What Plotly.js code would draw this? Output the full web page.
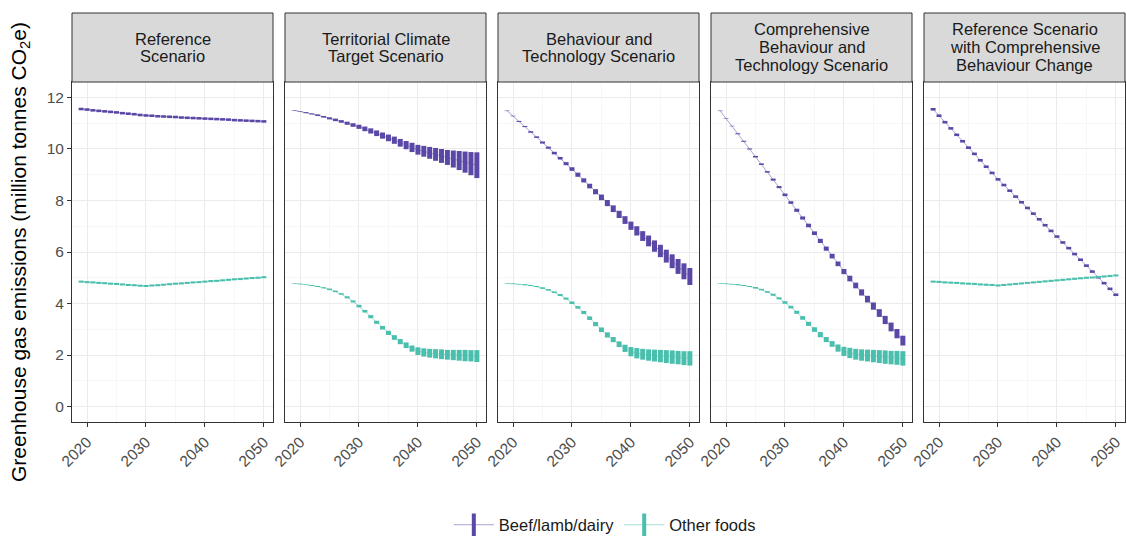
<!DOCTYPE html>
<html>
<head>
<meta charset="utf-8">
<script src="https://cdn.plot.ly/plotly-3.0.1.min.js"></script>
<style>
  html, body { margin: 0; padding: 0; background: #fff; }
  #chart { width: 1127px; height: 539px; }
</style>
</head>
<body>
<div id="chart"></div>
<script>
// years shown in every panel
const years = [2019, 2020, 2021, 2022, 2023, 2024, 2025, 2026, 2027, 2028, 2029, 2030,
               2031, 2032, 2033, 2034, 2035, 2036, 2037, 2038, 2039, 2040,
               2041, 2042, 2043, 2044, 2045, 2046, 2047, 2048, 2049, 2050];

const scenarioLabels = [
    ['Reference', 'Scenario'],
    ['Territorial Climate', 'Target Scenario'],
    ['Behaviour and', 'Technology Scenario'],
    ['Comprehensive', 'Behaviour and', 'Technology Scenario'],
    ['Reference Scenario', 'with Comprehensive', 'Behaviour Change']
];
const seriesNames = ['Beef/lamb/dairy', 'Other foods'];
const xTickVals = [2020, 2030, 2040, 2050];
const yTickVals = [0, 2, 4, 6, 8, 10, 12];

// Reference Scenario (central value, half of uncertainty range)
const refBeef = [11.55, 11.53, 11.50, 11.48, 11.46, 11.44, 11.42, 11.39, 11.37, 11.35, 11.32, 11.30,
                 11.29, 11.27, 11.26, 11.25, 11.24, 11.22, 11.21, 11.20, 11.19, 11.18,
                 11.17, 11.16, 11.15, 11.14, 11.12, 11.11, 11.10, 11.09, 11.08, 11.07];
const refBeefHalf = [0.05, 0.05, 0.05, 0.05, 0.05, 0.05, 0.05, 0.05, 0.05, 0.05, 0.05, 0.05,
                     0.05, 0.05, 0.05, 0.05, 0.05, 0.05, 0.05, 0.05, 0.05, 0.05,
                     0.05, 0.05, 0.05, 0.05, 0.05, 0.05, 0.05, 0.05, 0.05, 0.05];
const refOther = [4.85, 4.83, 4.82, 4.80, 4.79, 4.77, 4.76, 4.74, 4.72, 4.71, 4.69, 4.68,
                  4.70, 4.71, 4.73, 4.75, 4.77, 4.78, 4.80, 4.82, 4.83, 4.85,
                  4.87, 4.88, 4.90, 4.92, 4.94, 4.95, 4.97, 4.99, 5.00, 5.02];
const refOtherHalf = [0.04, 0.04, 0.04, 0.04, 0.04, 0.04, 0.04, 0.04, 0.04, 0.04, 0.04, 0.04,
                      0.04, 0.04, 0.04, 0.04, 0.04, 0.04, 0.04, 0.04, 0.04, 0.04,
                      0.04, 0.04, 0.04, 0.04, 0.04, 0.04, 0.04, 0.04, 0.04, 0.04];

// Territorial Climate Target Scenario
const tctBeef = [11.50, 11.46, 11.41, 11.36, 11.31, 11.25, 11.19, 11.13, 11.07, 11.00, 10.93, 10.86,
                 10.78, 10.70, 10.61, 10.52, 10.43, 10.34, 10.24, 10.15, 10.06, 9.97,
                 9.91, 9.85, 9.79, 9.73, 9.67, 9.61, 9.55, 9.49, 9.43, 9.37];
const tctBeefHalf = [0.01, 0.01, 0.02, 0.02, 0.03, 0.03, 0.04, 0.05, 0.05, 0.06, 0.07, 0.08,
                     0.09, 0.10, 0.11, 0.12, 0.13, 0.14, 0.15, 0.16, 0.18, 0.19,
                     0.21, 0.23, 0.25, 0.27, 0.29, 0.33, 0.37, 0.41, 0.45, 0.50];
const tctOther = [4.78, 4.76, 4.73, 4.70, 4.66, 4.61, 4.55, 4.47, 4.37, 4.24, 4.08, 3.90,
                  3.70, 3.49, 3.27, 3.06, 2.86, 2.68, 2.52, 2.38, 2.25, 2.15,
                  2.10, 2.07, 2.05, 2.03, 2.01, 2.00, 1.99, 1.98, 1.97, 1.96];
const tctOtherHalf = [0.01, 0.01, 0.01, 0.02, 0.02, 0.02, 0.03, 0.03, 0.03, 0.04, 0.04, 0.05,
                      0.05, 0.06, 0.06, 0.07, 0.08, 0.09, 0.10, 0.11, 0.12, 0.15,
                      0.16, 0.17, 0.18, 0.19, 0.19, 0.20, 0.21, 0.22, 0.22, 0.23];

// Behaviour and Technology Scenario
const btsBeef = [11.48, 11.28, 11.07, 10.87, 10.66, 10.46, 10.25, 10.05, 9.84, 9.64, 9.43, 9.22,
                 9.00, 8.78, 8.56, 8.34, 8.12, 7.90, 7.68, 7.46, 7.24, 7.02,
                 6.82, 6.62, 6.43, 6.23, 6.04, 5.84, 5.64, 5.44, 5.25, 5.05];
const btsBeefHalf = [0.01, 0.01, 0.02, 0.02, 0.03, 0.03, 0.04, 0.04, 0.05, 0.05, 0.06, 0.07,
                     0.08, 0.08, 0.09, 0.10, 0.11, 0.12, 0.13, 0.14, 0.15, 0.16,
                     0.18, 0.19, 0.21, 0.22, 0.24, 0.25, 0.27, 0.29, 0.31, 0.33];
const btsOther = [4.78, 4.77, 4.75, 4.73, 4.70, 4.66, 4.60, 4.53, 4.44, 4.33, 4.19, 4.03,
                  3.85, 3.65, 3.43, 3.20, 2.98, 2.78, 2.60, 2.42, 2.26, 2.13,
                  2.07, 2.03, 2.00, 1.98, 1.96, 1.94, 1.92, 1.90, 1.88, 1.87];
const btsOtherHalf = [0.01, 0.01, 0.01, 0.02, 0.02, 0.02, 0.03, 0.03, 0.03, 0.04, 0.04, 0.05,
                      0.05, 0.06, 0.07, 0.08, 0.09, 0.10, 0.10, 0.11, 0.14, 0.18,
                      0.20, 0.21, 0.22, 0.23, 0.24, 0.25, 0.26, 0.26, 0.27, 0.28];

// Comprehensive Behaviour and Technology Scenario
const cbtBeef = [11.48, 11.18, 10.89, 10.59, 10.30, 10.00, 9.70, 9.41, 9.11, 8.81, 8.52, 8.22,
                 7.92, 7.62, 7.32, 7.03, 6.73, 6.43, 6.13, 5.84, 5.54, 5.24,
                 4.97, 4.70, 4.43, 4.17, 3.90, 3.63, 3.36, 3.09, 2.83, 2.56];
const cbtBeefHalf = [0.01, 0.01, 0.01, 0.02, 0.02, 0.02, 0.03, 0.03, 0.03, 0.04, 0.04, 0.05,
                     0.05, 0.06, 0.06, 0.07, 0.07, 0.08, 0.08, 0.09, 0.09, 0.10,
                     0.11, 0.11, 0.12, 0.13, 0.14, 0.15, 0.16, 0.17, 0.18, 0.19];
const cbtOther = [4.78, 4.77, 4.75, 4.73, 4.70, 4.66, 4.61, 4.54, 4.45, 4.34, 4.20, 4.04,
                  3.86, 3.66, 3.44, 3.21, 2.99, 2.79, 2.60, 2.43, 2.27, 2.14,
                  2.08, 2.03, 2.00, 1.98, 1.96, 1.94, 1.92, 1.90, 1.89, 1.87];
const cbtOtherHalf = [0.01, 0.01, 0.01, 0.02, 0.02, 0.02, 0.03, 0.03, 0.03, 0.04, 0.04, 0.05,
                      0.05, 0.06, 0.07, 0.08, 0.09, 0.10, 0.10, 0.11, 0.14, 0.18,
                      0.20, 0.21, 0.22, 0.23, 0.24, 0.25, 0.26, 0.26, 0.27, 0.28];

// Reference Scenario with Comprehensive Behaviour Change
const rcbBeef = [11.54, 11.29, 11.04, 10.80, 10.55, 10.30, 10.05, 9.81, 9.56, 9.31, 9.07, 8.82,
                 8.60, 8.38, 8.15, 7.93, 7.71, 7.49, 7.27, 7.04, 6.82, 6.60,
                 6.37, 6.15, 5.92, 5.70, 5.47, 5.24, 5.02, 4.79, 4.57, 4.34];
const rcbBeefHalf = [0.05, 0.05, 0.05, 0.05, 0.05, 0.05, 0.05, 0.05, 0.05, 0.05, 0.05, 0.05,
                     0.05, 0.05, 0.05, 0.05, 0.05, 0.05, 0.05, 0.05, 0.05, 0.05,
                     0.05, 0.05, 0.05, 0.05, 0.05, 0.05, 0.05, 0.05, 0.05, 0.05];
const rcbOther = [4.85, 4.84, 4.82, 4.81, 4.80, 4.78, 4.77, 4.76, 4.74, 4.73, 4.72, 4.70,
                  4.72, 4.74, 4.76, 4.78, 4.80, 4.82, 4.84, 4.86, 4.88, 4.90,
                  4.92, 4.94, 4.96, 4.98, 5.00, 5.01, 5.03, 5.05, 5.07, 5.09];
const rcbOtherHalf = [0.04, 0.04, 0.04, 0.04, 0.04, 0.04, 0.04, 0.04, 0.04, 0.04, 0.04, 0.04,
                      0.04, 0.04, 0.04, 0.04, 0.04, 0.04, 0.04, 0.04, 0.04, 0.04,
                      0.04, 0.04, 0.04, 0.04, 0.04, 0.04, 0.04, 0.04, 0.04, 0.04];

const panels = [
    [[refBeef, refBeefHalf], [refOther, refOtherHalf]],
    [[tctBeef, tctBeefHalf], [tctOther, tctOtherHalf]],
    [[btsBeef, btsBeefHalf], [btsOther, btsOtherHalf]],
    [[cbtBeef, cbtBeefHalf], [cbtOther, cbtOtherHalf]],
    [[rcbBeef, rcbBeefHalf], [rcbOther, rcbOtherHalf]]
];

const colors = ['#5B47A6', '#4BBFAD'];
const lineColors = ['rgba(91,71,166,0.5)', 'rgba(75,191,173,0.5)'];
const FONT = 'Liberation Sans, Arial, sans-serif';

// facet geometry (pixels inside the 1127 x 539 page)
const marginL = 72, marginR = 2, marginT = 82, marginB = 117;
const plotW = 1127 - marginL - marginR;
const plotH = 539 - marginT - marginB;
const panelW = 201, panelStep = 213;
const stripTop = 1 + 69 / plotH;
const stripLineGap = 18 / plotH;

let traces = [];
let layout = {
    width: 1127,
    height: 539,
    margin: {l: marginL, r: marginR, t: marginT, b: marginB, autoexpand: false},
    paper_bgcolor: '#ffffff',
    plot_bgcolor: '#ffffff',
    font: {family: FONT, color: '#1A1A1A'},
    showlegend: true,
    legend: {
        orientation: 'h', xref: 'paper', x: 0.506, xanchor: 'center',
        yref: 'container', y: 14 / 539, yanchor: 'middle',
        font: {size: 16.5, color: '#1A1A1A'}, itemwidth: 40
    },
    shapes: [],
    annotations: []
};

panels.forEach((panel, i) => {
    const n = i + 1;
    const suffix = n === 1 ? '' : String(n);
    const d0 = (i * panelStep) / plotW;
    const d1 = (i * panelStep + panelW) / plotW;

    layout['xaxis' + suffix] = {
        domain: [d0, d1],
        anchor: 'y' + suffix,
        range: [2017.45, 2051.55],
        tickmode: 'array',
        tickvals: xTickVals,
        ticks: 'outside', ticklen: 4, tickwidth: 1, tickcolor: '#333333',
        tickangle: -45,
        tickfont: {size: 15.5, color: '#4D4D4D'},
        showgrid: true, gridcolor: '#EBEBEB', gridwidth: 1,
        minor: {tickmode: 'array', tickvals: [2025, 2035, 2045], showgrid: true, gridcolor: '#F4F4F4', gridwidth: 0.7},
        showline: true, mirror: true, linecolor: '#333333', linewidth: 1,
        zeroline: false,
        fixedrange: true
    };
    layout['yaxis' + suffix] = {
        domain: [0, 1],
        anchor: 'x' + suffix,
        range: [-0.6, 12.6],
        tickmode: 'array',
        tickvals: yTickVals,
        ticks: n === 1 ? 'outside' : '', ticklen: 4, tickwidth: 1, tickcolor: '#333333',
        showticklabels: n === 1,
        tickfont: {size: 15.5, color: '#4D4D4D'},
        showgrid: true, gridcolor: '#EBEBEB', gridwidth: 1,
        minor: {tickmode: 'array', tickvals: [1, 3, 5, 7, 9, 11], showgrid: true, gridcolor: '#F4F4F4', gridwidth: 0.7},
        showline: true, mirror: true, linecolor: '#333333', linewidth: 1,
        zeroline: false,
        fixedrange: true
    };

    // grey facet strip
    layout.shapes.push({
        type: 'rect', xref: 'paper', yref: 'paper',
        x0: d0, x1: d1, y0: 1, y1: stripTop,
        fillcolor: '#D9D9D9', line: {color: '#333333', width: 1}
    });
    // one annotation per strip line so the line spacing matches ggplot's
    const lines = scenarioLabels[i];
    const centre = (1 + stripTop) / 2;
    lines.forEach((txt, k) => {
        layout.annotations.push({
            xref: 'paper', yref: 'paper',
            x: (d0 + d1) / 2, y: centre + ((lines.length - 1) / 2 - k) * stripLineGap,
            xanchor: 'center', yanchor: 'middle',
            text: txt, showarrow: false,
            font: {size: 16.5, color: '#1A1A1A'}
        });
    });

    panel.forEach(([mid, half], s) => {
        // thin connecting line
        traces.push({
            x: years, y: mid,
            xaxis: 'x' + suffix, yaxis: 'y' + suffix,
            mode: 'lines',
            line: {color: lineColors[s], width: 1},
            showlegend: false, hoverinfo: 'skip'
        });
        // yearly ranges
        traces.push({
            x: years, y: mid,
            xaxis: 'x' + suffix, yaxis: 'y' + suffix,
            mode: 'markers',
            marker: {size: 1, color: 'rgba(0,0,0,0)'},
            error_y: {type: 'data', array: half, visible: true, thickness: 5, width: 0, color: colors[s]},
            showlegend: false, hoverinfo: 'skip'
        });
    });
});

// legend keys: thin line with a thick vertical range
seriesNames.forEach((name, s) => {
    traces.push({
        x: [null], y: [null],
        name: name,
        mode: 'lines+markers',
        line: {color: lineColors[s], width: 1},
        marker: {symbol: 'line-ns-open', size: 16, color: colors[s], line: {width: 4, color: colors[s]}}
    });
});

layout.annotations.push({
    xref: 'paper', yref: 'paper',
    x: (20 - marginL) / plotW, y: 0.5,
    xanchor: 'center', yanchor: 'middle',
    textangle: -90, showarrow: false,
    text: 'Greenhouse gas emissions (million tonnes CO<sub>2</sub>e)',
    font: {size: 21, color: '#000000'}
});

Plotly.newPlot('chart', traces, layout, {displayModeBar: false, staticPlot: true});
</script>
</body>
</html>
